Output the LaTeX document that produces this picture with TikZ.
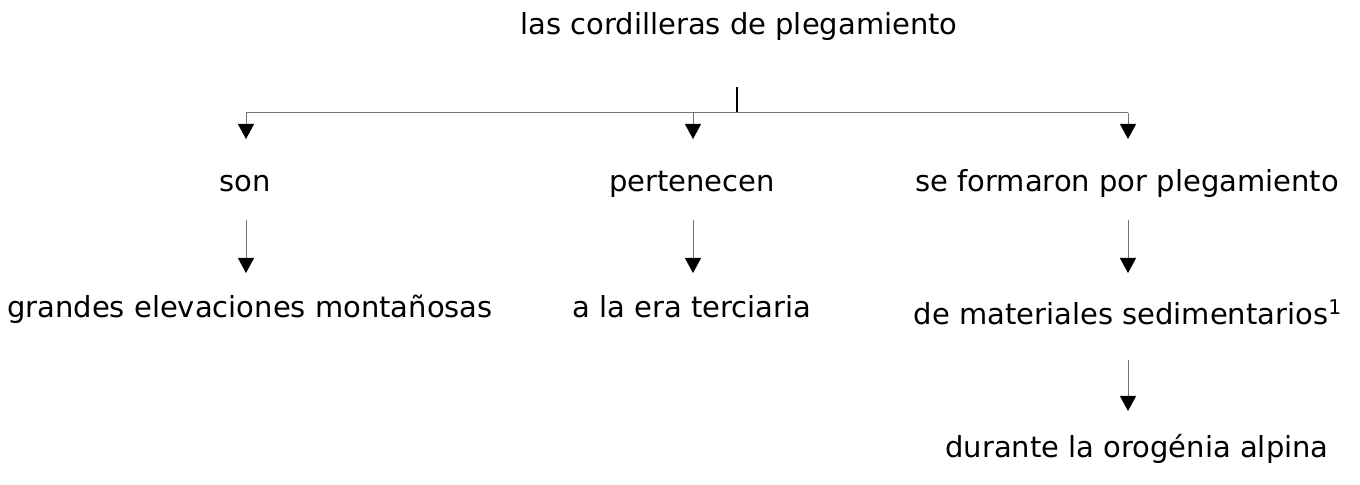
\documentclass[tikz,border=0pt]{standalone}
\usepackage{fontspec}
\setmainfont{DejaVu Sans}
\usetikzlibrary{arrows.meta}
\begin{document}
\begin{tikzpicture}[x=0.5pt,y=-0.5pt,
  lbl/.style={font=\fontsize{14.5}{17}\selectfont, inner sep=0pt, anchor=base},
  arr/.style={draw=black!55, line width=0.5pt, -{Triangle[length=7.5pt,width=8pt,fill=black,color=black]}},
  stem/.style={draw=black, line width=0.6pt}]
\useasboundingbox (0,0) rectangle (1360,485);
\node[lbl] (title) at (739,35) {las cordilleras de plegamiento};
\node[lbl] (son) at (245,192) {son};
\node[lbl] (pert) at (692,192) {pertenecen};
\node[lbl] (form) at (1127,192) {se formaron por plegamiento};
\node[lbl] (gran) at (250,318) {grandes elevaciones montañosas};
\node[lbl] (era) at (692,318) {a la era terciaria};
\node[lbl] (mat) at (1128,325) {de materiales sedimentarios\textsuperscript{1}};
\node[lbl] (dur) at (1137,458) {durante la orogénia alpina};
\coordinate (top) at (737,87);
\coordinate (bar) at (737,113);
\coordinate (t1) at (246,139);
\coordinate (t2) at (693,139);
\coordinate (t3) at (1128,139);
\coordinate (s1) at (246,220);
\coordinate (e1) at (246,273);
\coordinate (s2) at (693,220);
\coordinate (e2) at (693,273);
\coordinate (s3) at (1128,220);
\coordinate (e3) at (1128,273);
\coordinate (s4) at (1128,360);
\coordinate (e4) at (1128,411);
\draw[stem] (top) -- (bar);
\draw[draw=black!55, line width=0.5pt] (t1 |- bar) -- (t3 |- bar);
\draw[arr] (t1 |- bar) -- (t1);
\draw[arr] (t2 |- bar) -- (t2);
\draw[arr] (t3 |- bar) -- (t3);
\draw[arr] (s1) -- (e1);
\draw[arr] (s2) -- (e2);
\draw[arr] (s3) -- (e3);
\draw[arr] (s4) -- (e4);
\end{tikzpicture}
\end{document}
